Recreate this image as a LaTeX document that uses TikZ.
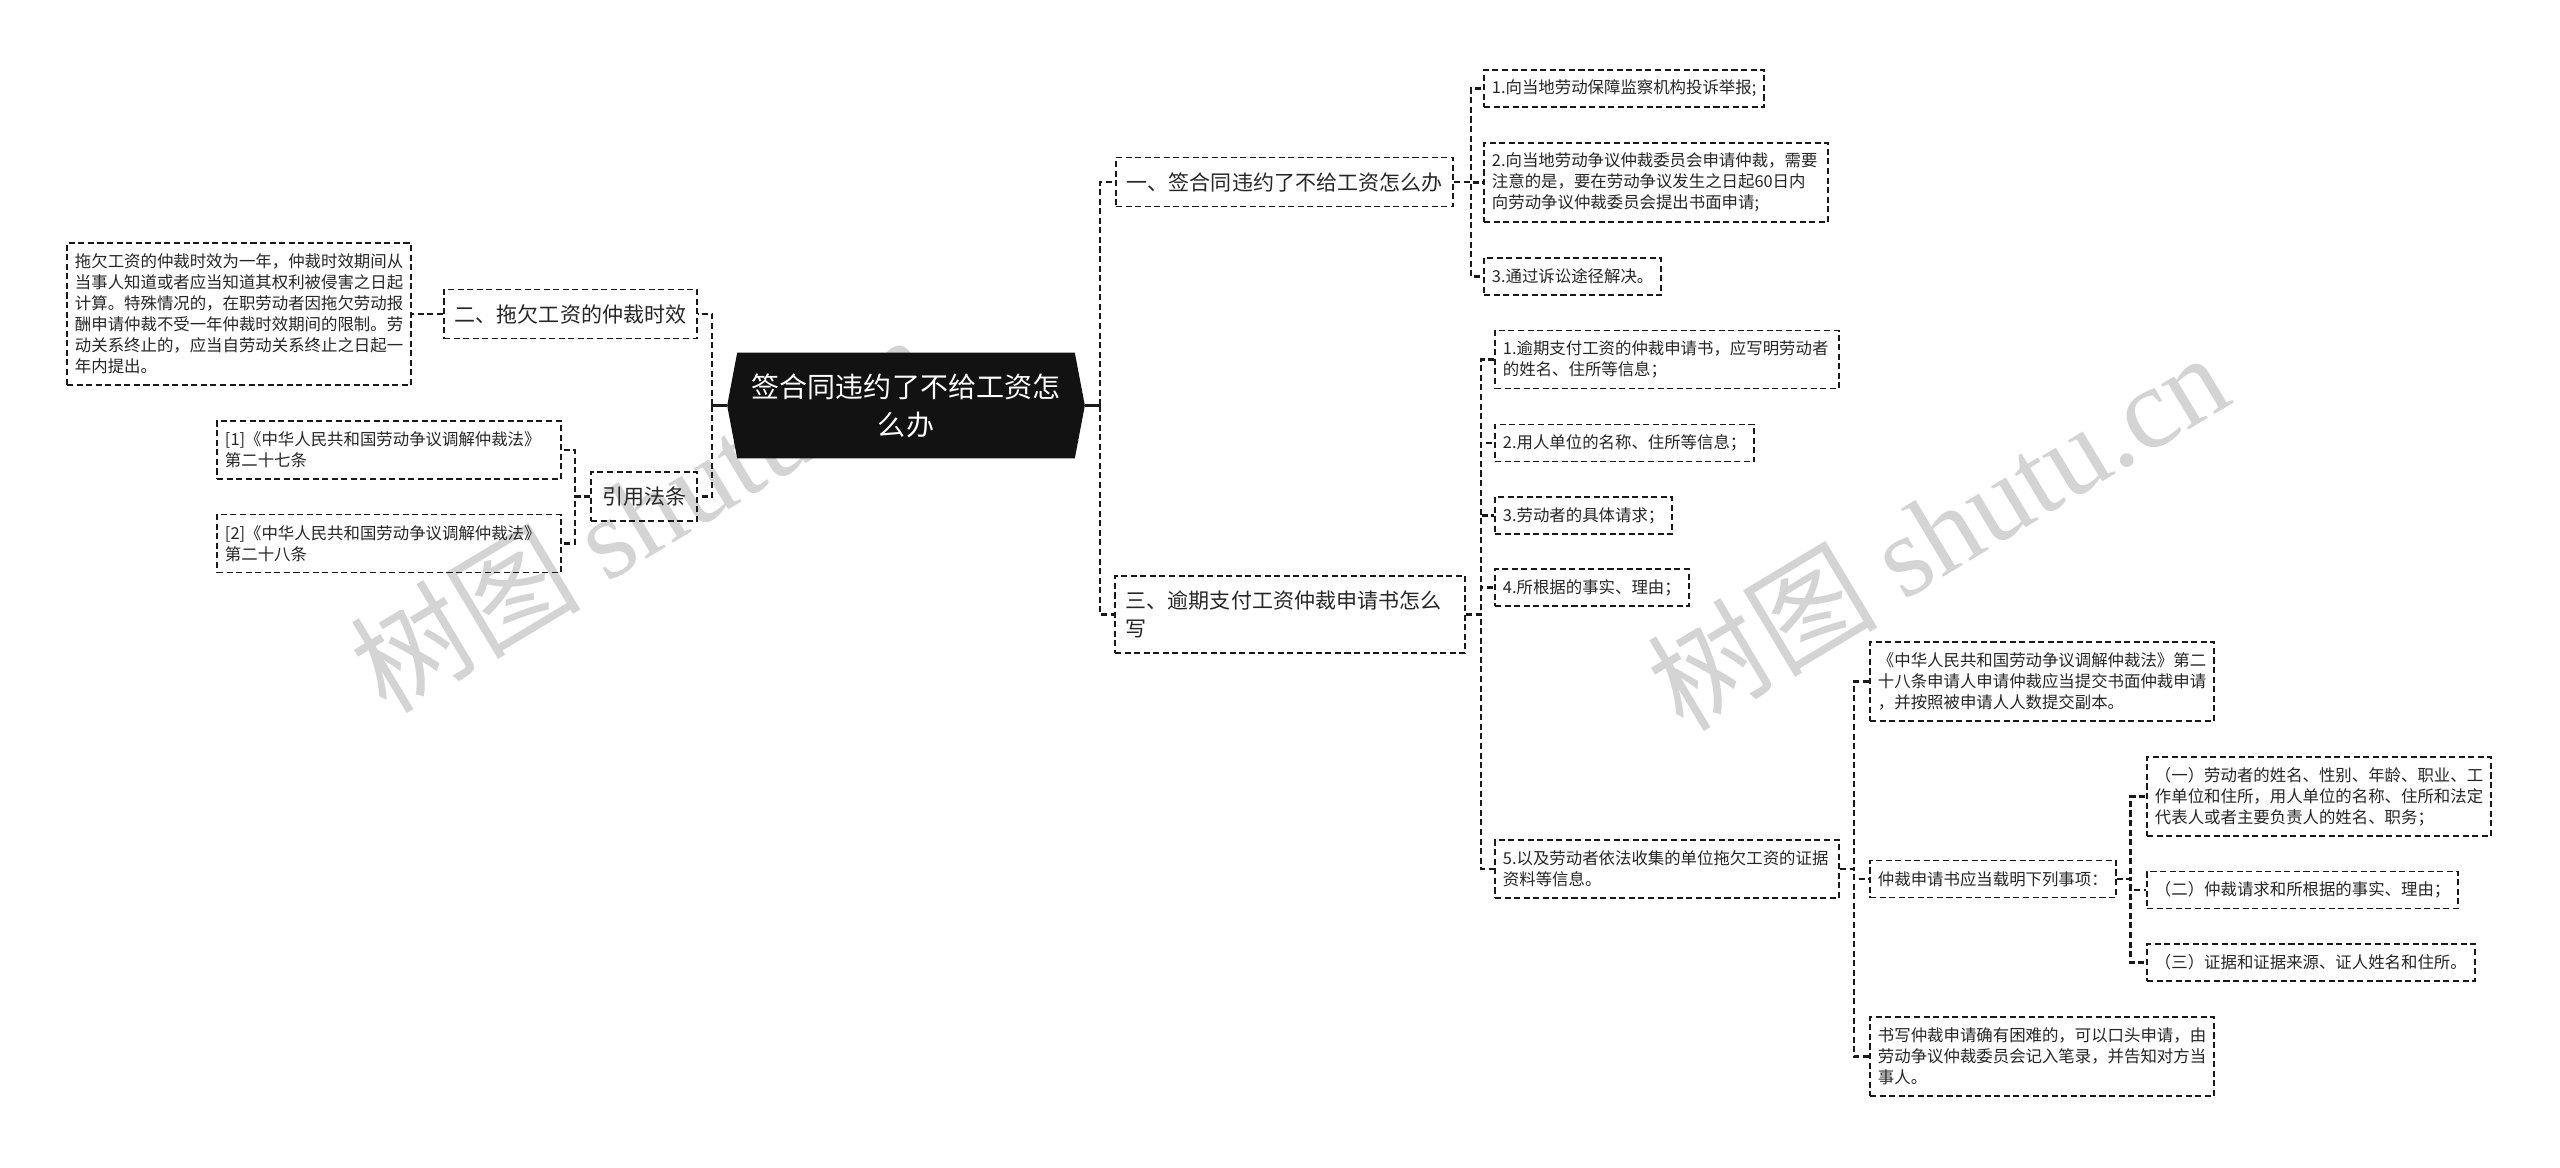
\documentclass[tikz,border=0pt]{standalone}
\usepackage{fontspec}
\setmainfont{Noto Sans CJK SC}
\newfontfamily\wmfont{Liberation Serif}
\usepackage{tikz}
\usetikzlibrary{positioning, backgrounds}

\begin{document}
\begin{tikzpicture}[
        x=0.025cm, y=-0.025cm,
        topic/.style={align=center, text=white, inner sep=0pt, minimum width=8.425cm, minimum height=2.625cm, font=\fontsize{19.92pt}{27.03pt}\selectfont},
        leaf/.style={draw=black!90, line width=1.35pt, dash pattern=on 4.3pt off 2.5pt, inner xsep=0.2cm, inner ysep=0.1cm, minimum height=0.925cm, align=left, text=black!85, font=\fontsize{11.67pt}{14.94pt}\selectfont},
        branch/.style={leaf, inner xsep=0.275cm, minimum height=1.225cm, font=\fontsize{14.94pt}{19.92pt}\selectfont},
        link/.style={draw=black!90, line width=1.7pt, dash pattern=on 4.3pt off 2.5pt},
        stem/.style={draw=black!90, line width=2.1pt},
        wm/.style={text=black!17, inner sep=0pt, font=\fontsize{82pt}{82pt}\selectfont},
    ]
        \useasboundingbox (0,0) rectangle (2560,1167);

        % centre
        \node[topic] (root) at (906,405.5) {签合同违约了不给工资怎\\么办};
        \coordinate (rootW) at ([xshift=-0.25cm]root.west);
        \coordinate (rootE) at ([xshift=0.25cm]root.east);

        % left side
        \node[branch, anchor=east] (time) at (698,314) {二、拖欠工资的仲裁时效};
        \node[leaf, text width=8.2cm, minimum height=3.55cm, left=0.775cm of time] (timetxt) {拖欠工资的仲裁时效为一年，仲裁时效期间从\\当事人知道或者应当知道其权利被侵害之日起\\计算。特殊情况的，在职劳动者因拖欠劳动报\\酬申请仲裁不受一年仲裁时效期间的限制。劳\\动关系终止的，应当自劳动关系终止之日起一\\年内提出。};
        \node[branch, anchor=east] (cite) at (698,496.5) {引用法条};
        \node[leaf, anchor=east, text width=8.2cm, minimum height=1.45cm] (law1) at (562,450) {[1]《中华人民共和国劳动争议调解仲裁法》\\第二十七条};
        \node[leaf, anchor=east, text width=8.2cm, minimum height=1.45cm] (law2) at (562,543.5) {[2]《中华人民共和国劳动争议调解仲裁法》\\第二十八条};

        % right side, first branch
        \node[branch, anchor=west] (way) at (1115,182) {一、签合同违约了不给工资怎么办};
        \node[leaf, anchor=west] (way1) at (1483,88.5) {1.向当地劳动保障监察机构投诉举报;};
        \node[leaf, anchor=west, text width=8.2cm, minimum height=1.975cm] (way2) at (1483,182.5) {2.向当地劳动争议仲裁委员会申请仲裁，需要\\注意的是，要在劳动争议发生之日起60日内\\向劳动争议仲裁委员会提出书面申请;};
        \node[leaf, anchor=west] (way3) at (1483,276.5) {3.通过诉讼途径解决。};

        % right side, second branch
        \node[branch, anchor=west, text width=8.2cm, minimum height=1.925cm] (form) at (1114,614.5) {三、逾期支付工资仲裁申请书怎么\\写};
        \node[leaf, anchor=west, text width=8.2cm, minimum height=1.45cm] (form1) at (1494,359.5) {1.逾期支付工资的仲裁申请书，应写明劳动者\\的姓名、住所等信息；};
        \node[leaf, anchor=west] (form2) at (1494,443) {2.用人单位的名称、住所等信息；};
        \node[leaf, anchor=west] (form3) at (1494,515.5) {3.劳动者的具体请求；};
        \node[leaf, anchor=west] (form4) at (1494,587.5) {4.所根据的事实、理由；};
        \node[leaf, anchor=west, text width=8.2cm, minimum height=1.45cm] (form5) at (1494,869) {5.以及劳动者依法收集的单位拖欠工资的证据\\资料等信息。};
        \node[leaf, anchor=west, text width=8.2cm, minimum height=1.975cm] (art) at (1869,681.5) {《中华人民共和国劳动争议调解仲裁法》第二\\十八条申请人申请仲裁应当提交书面仲裁申请\\，并按照被申请人人数提交副本。};
        \node[leaf, anchor=west] (req) at (1869,879) {仲裁申请书应当载明下列事项：};
        \node[leaf, anchor=west, text width=8.2cm, minimum height=1.975cm] (req1) at (2146,796.5) {（一）劳动者的姓名、性别、年龄、职业、工\\作单位和住所，用人单位的名称、住所和法定\\代表人或者主要负责人的姓名、职务；};
        \node[leaf, anchor=west] (req2) at (2146,890) {（二）仲裁请求和所根据的事实、理由；};
        \node[leaf, anchor=west] (req3) at (2146,962.5) {（三）证据和证据来源、证人姓名和住所。};
        \node[leaf, anchor=west, text width=8.2cm, minimum height=1.975cm] (oral) at (1869,1056.5) {书写仲裁申请确有困难的，可以口头申请，由\\劳动争议仲裁委员会记入笔录，并告知对方当\\事人。};

        % connectors
        \draw[stem] (rootW) -- ++(-15,0) coordinate (spL);
        \draw[stem] (rootE) -- ++(15,0) coordinate (spR);
        \foreach \c in {time,cite} \draw[link] (spL) |- (\c.east);
        \foreach \c in {way,form} \draw[link] (spR) |- (\c.west);
        \draw[link] (time.west) -- (timetxt.east);
        \foreach \c in {law1,law2} \draw[link] (cite.west) -- ++(-15,0) |- (\c.east);
        \foreach \c in {way1,way2,way3} \draw[link] (way.east) -- ++(17,0) |- (\c.west);
        \foreach \c in {form1,form2,form3,form4,form5} \draw[link] (form.east) -- ++(15,0) |- (\c.west);
        \foreach \c in {art,req,oral} \draw[link] (form5.east) -- ++(14,0) |- (\c.west);
        \foreach \c in {req1,req2,req3} \draw[link] (req.east) -- ++(14,0) |- (\c.west);

        \begin{scope}[on background layer]
            \fill[white] (0,0) rectangle (2560,1167);
            \node[wm, rotate=31] (wm1) at (640,512) {树图 {\wmfont shutu.cn}};
            \node[wm, rotate=31] (wm2) at (1937,530) {树图 {\wmfont shutu.cn}};
            \fill[black!93] (root.north west) -- (root.north east) -- (rootE) -- (root.south east) -- (root.south west) -- (rootW) -- cycle;
        \end{scope}
    \end{tikzpicture}
\end{document}
